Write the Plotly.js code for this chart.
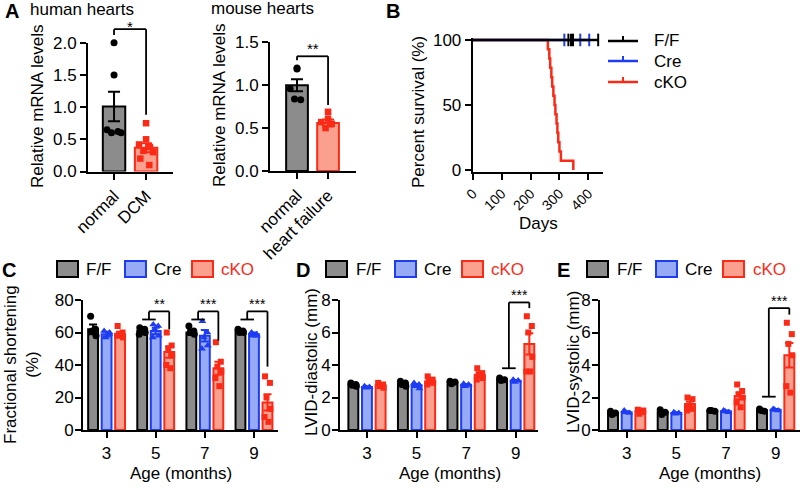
<!DOCTYPE html>
<html>
<head>
<meta charset="utf-8">
<script src="https://cdn.plot.ly/plotly-3.0.1.min.js"></script>
<style>
  body { margin: 0; background: #fff; }
  #fig { width: 800px; height: 488px; }
</style>
</head>
<body>
<div id="fig"></div>
<script>
// ---- values ----

// A: relative mRNA levels
var humanGroups = ['normal', 'DCM'];
var humanMean = [1.01, 0.37];
var humanSem = [0.23, 0.07];
var humanNormalPts = [2.0, 1.5, 0.65, 0.62, 0.6, 0.6];
var humanDcmPts = [0.75, 0.5, 0.42, 0.38, 0.32, 0.3, 0.2, 0.1];

var mouseGroups = ['normal', 'heart failure'];
var mouseMean = [1.0, 0.56];
var mouseSem = [0.07, 0.04];
var mouseNormalPts = [1.19, 1.2, 0.96, 0.83, 0.84];
var mouseHfPts = [0.69, 0.61, 0.57, 0.55, 0.5];

// B: survival
var ckoDays = [0, 260, 265, 268, 272, 275, 279, 283, 286, 290, 293, 296, 300, 305, 348];
var ckoSurv = [100, 92.9, 85.7, 78.6, 71.4, 64.3, 57.1, 50, 42.9, 35.7, 28.6, 21.4, 14.3, 7.1, 0];
var creDays = [0, 403];
var creSurv = [100, 100];
var ffDays = [0, 434];
var ffSurv = [100, 100];
var creCensorDays = [317, 372, 403];
var creCensorSurv = [100, 100, 100];
var ffCensorDays = [331, 340, 347, 434];
var ffCensorSurv = [100, 100, 100, 100];
var survNames = ['F/F', 'Cre', 'cKO'];

// C-E: echo by age
var ages = ['3', '5', '7', '9'];
var ageIdx = [0, 1, 2, 3];

var fsMeanFF = [62, 61, 60, 61];
var fsMeanCre = [59, 61, 58, 59];
var fsMeanKO = [59, 48, 38, 17];
var fsSemFF = [3, 1, 1.5, 1];
var fsSemCre = [1.5, 2, 3.5, 1];
var fsSemKO = [1.5, 3.5, 4, 5];
var fsPtsFF = [[70, 62, 61, 58], [63, 62, 61, 60, 59], [64, 61, 60, 59], [62, 61, 60, 60]];
var fsPtsCre = [[61, 59, 57, 60], [65, 64, 62, 58, 57], [67, 60, 57, 52, 50], [60, 59, 58, 58]];
var fsPtsKO = [[64, 60, 59, 57, 58], [60, 52, 50, 46, 40, 38], [54, 42, 39, 36, 32, 27], [33, 29, 20, 13, 8, 5]];

var ddMeanFF = [2.8, 2.85, 2.92, 3.1];
var ddMeanCre = [2.65, 2.75, 2.78, 3.03];
var ddMeanKO = [2.75, 3.0, 3.4, 5.3];
var ddSemFF = [0.05, 0.1, 0.05, 0.05];
var ddSemCre = [0.05, 0.08, 0.05, 0.05];
var ddSemKO = [0.1, 0.1, 0.15, 0.65];
var ddPtsFF = [[2.9, 2.8, 2.75, 2.7], [3.0, 2.9, 2.8, 2.7], [3.0, 2.95, 2.85], [3.2, 3.1, 3.05]];
var ddPtsCre = [[2.7, 2.65, 2.6], [2.9, 2.8, 2.7, 2.55], [2.85, 2.8, 2.7], [3.1, 3.05, 2.95]];
var ddPtsKO = [[2.9, 2.8, 2.7, 2.6], [3.3, 3.1, 3.0, 2.9, 2.8], [3.8, 3.5, 3.4, 3.2, 3.1], [7.0, 6.4, 6.0, 4.5, 3.6, 3.6]];

var dsMeanFF = [1.05, 1.1, 1.18, 1.2];
var dsMeanCre = [1.1, 1.05, 1.15, 1.25];
var dsMeanKO = [1.15, 1.6, 2.1, 4.6];
var dsSemFF = [0.05, 0.08, 0.04, 0.05];
var dsSemCre = [0.05, 0.04, 0.05, 0.05];
var dsSemKO = [0.05, 0.15, 0.2, 0.75];
var dsPtsFF = [[1.15, 1.05, 0.95], [1.25, 1.1, 0.95], [1.2, 1.15, 1.2], [1.3, 1.15, 1.2]];
var dsPtsCre = [[1.2, 1.05, 1.1], [1.1, 1.05, 1.0], [1.2, 1.1, 1.15], [1.3, 1.2, 1.25]];
var dsPtsKO = [[1.25, 1.1, 1.0, 1.2], [2.0, 1.9, 1.5, 1.3, 1.2], [2.8, 2.4, 2.2, 2.0, 1.7, 1.4], [6.6, 5.9, 5.3, 4.6, 2.7, 2.3]];

// ---- styling ----
var FONT = 'Liberation Sans, Arial, sans-serif';
var FF_FILL = '#8c8c8c', FF_EDGE = '#000000';
var CRE_FILL = '#97aaf6', CRE_EDGE = '#1d3cf3';
var KO_FILL = '#fb9f8f', KO_EDGE = '#fb2a17';
var BAR_W = 0.2, BAR_OFF = 0.275;
var jitA = [0, 0, -0.22, 0.12, -0.08, 0.22, -0.18, 0.1];
var jitB = [-0.05, 0.05, -0.02, 0.06, -0.06, 0.02, 0.0];

function px(x) { return x / 800; }
function py(y) { return 1 - y / 488; }
function dom(v, r) { return (v - r[0]) / (r[1] - r[0]); }

function axStyle(extra) {
  return Object.assign({
    showline: true, linecolor: '#000', linewidth: 2,
    ticks: 'outside', ticklen: 6, tickwidth: 2, tickcolor: '#000',
    showgrid: false, zeroline: false, fixedrange: true,
    tickfont: { family: FONT, size: 17, color: '#000' }
  }, extra);
}

var traces = [];
var shapes = [];
var annotations = [];

function text(t, x, y, opts) {
  annotations.push(Object.assign({
    text: t, xref: 'paper', yref: 'paper', x: px(x), y: py(y),
    showarrow: false, xanchor: 'center', yanchor: 'middle',
    font: { family: FONT, size: 17, color: '#000' }
  }, opts || {}));
}

function pline(x0, y0, x1, y1, color, w) {
  shapes.push({
    type: 'line', xref: 'paper', yref: 'paper',
    x0: px(x0), y0: py(y0), x1: px(x1), y1: py(y1),
    line: { color: color, width: w }
  });
}

// bracket drawn in axis-domain coords so it is not clipped by the plot area
function seg(n, xr, yr, x0, y0, x1, y1) {
  shapes.push({
    type: 'line', xref: 'x' + n + ' domain', yref: 'y' + n + ' domain',
    x0: dom(x0, xr), y0: dom(y0, yr), x1: dom(x1, xr), y1: dom(y1, yr),
    line: { color: '#000', width: 1.8 }
  });
}

// ---- A: two small bar charts ----
function mrnaPanel(n, mean, sem, ptsA, ptsB) {
  var xa = 'x' + n, ya = 'y' + n;
  traces.push({
    type: 'bar', x: [0], y: [mean[0]], width: 0.7, xaxis: xa, yaxis: ya,
    marker: { color: FF_FILL, line: { color: FF_EDGE, width: 2 } },
    error_y: { type: 'data', array: [sem[0]], color: FF_EDGE, thickness: 2, width: 6 },
    showlegend: false, hoverinfo: 'skip'
  });
  traces.push({
    type: 'bar', x: [1], y: [mean[1]], width: 0.7, xaxis: xa, yaxis: ya,
    marker: { color: KO_FILL, line: { color: KO_EDGE, width: 2 } },
    error_y: { type: 'data', array: [sem[1]], color: KO_EDGE, thickness: 2, width: 6 },
    showlegend: false, hoverinfo: 'skip'
  });
  traces.push({
    type: 'scatter', mode: 'markers', xaxis: xa, yaxis: ya, cliponaxis: false,
    x: ptsA.map(function (v, k) { return 0 + jitA[k]; }), y: ptsA,
    marker: { symbol: 'circle', size: 7, color: '#000' }, showlegend: false, hoverinfo: 'skip'
  });
  traces.push({
    type: 'scatter', mode: 'markers', xaxis: xa, yaxis: ya, cliponaxis: false,
    x: ptsB.map(function (v, k) { return 1 + jitA[k]; }), y: ptsB,
    marker: { symbol: 'square', size: 6.5, color: KO_EDGE }, showlegend: false, hoverinfo: 'skip'
  });
}

var xrH = [-0.8125, 1.84], yrH = [0, 2];
var xrM = [-0.87, 1.9], yrM = [0, 1.5];
mrnaPanel('', humanMean, humanSem, humanNormalPts, humanDcmPts);
mrnaPanel('2', mouseMean, mouseSem, mouseNormalPts, mouseHfPts);

seg('', xrH, yrH, 0, 2.12, 0, 2.21);
seg('', xrH, yrH, 0, 2.21, 1, 2.21);
seg('', xrH, yrH, 1, 2.21, 1, 0.88);
text('*', 130, 26, { font: { family: FONT, size: 15, color: '#000' } });

seg('2', xrM, yrM, 0, 1.29, 0, 1.337);
seg('2', xrM, yrM, 0, 1.337, 1, 1.337);
seg('2', xrM, yrM, 1, 1.337, 1, 0.77);
text('**', 313, 48, { font: { family: FONT, size: 15, color: '#000' } });

// ---- B: survival ----
var survColors = ['#000', CRE_EDGE, KO_EDGE];
function survLine(days, surv, color) {
  traces.push({
    type: 'scatter', mode: 'lines', x: days, y: surv, xaxis: 'x3', yaxis: 'y3',
    line: { shape: 'hv', color: color, width: 2.5 }, showlegend: false, hoverinfo: 'skip'
  });
}
function censorMarks(days, surv, color) {
  traces.push({
    type: 'scatter', mode: 'markers', x: days, y: surv, xaxis: 'x3', yaxis: 'y3',
    cliponaxis: false, showlegend: false, hoverinfo: 'skip',
    marker: { symbol: 'line-ns-open', size: 9, color: color, line: { color: color, width: 2 } }
  });
}
survLine(ckoDays, ckoSurv, KO_EDGE);
survLine(creDays, creSurv, CRE_EDGE);
censorMarks(creCensorDays, creCensorSurv, CRE_EDGE);
survLine(ffDays, ffSurv, '#000');
censorMarks(ffCensorDays, ffCensorSurv, '#000');

// legend for B
[41, 61, 82].forEach(function (y, k) {
  pline(608, y, 638, y, survColors[k], 2.5);
  pline(623, y, 623, y - 5, survColors[k], 2);
  text(survNames[k], 652, y, { xanchor: 'left' });
});

// ---- C-E: grouped bars ----
function echoPanel(n, mFF, mCre, mKO, sFF, sCre, sKO, pFF, pCre, pKO) {
  var xa = 'x' + n, ya = 'y' + n;
  var genos = [
    { off: -BAR_OFF, m: mFF, s: sFF, p: pFF, fill: FF_FILL, edge: FF_EDGE, sym: 'circle', size: 7 },
    { off: 0, m: mCre, s: sCre, p: pCre, fill: CRE_FILL, edge: CRE_EDGE, sym: 'triangle-up', size: 7 },
    { off: BAR_OFF, m: mKO, s: sKO, p: pKO, fill: KO_FILL, edge: KO_EDGE, sym: 'square', size: 6 }
  ];
  genos.forEach(function (g) {
    traces.push({
      type: 'bar', x: ageIdx.map(function (i) { return i + g.off; }), y: g.m, width: BAR_W,
      xaxis: xa, yaxis: ya, showlegend: false, hoverinfo: 'skip',
      marker: { color: g.fill, line: { color: g.edge, width: 2 } },
      error_y: { type: 'data', array: g.s, color: g.edge, thickness: 2, width: 4 }
    });
  });
  genos.forEach(function (g) {
    var xs = [], ys = [];
    g.p.forEach(function (list, i) {
      list.forEach(function (v, j) { xs.push(i + g.off + jitB[j % jitB.length]); ys.push(v); });
    });
    traces.push({
      type: 'scatter', mode: 'markers', x: xs, y: ys, xaxis: xa, yaxis: ya, cliponaxis: false,
      marker: { symbol: g.sym, size: g.size, color: g.edge }, showlegend: false, hoverinfo: 'skip'
    });
  });
}

var xrC = [-0.48, 3.489], yrC = [0, 80];
var xrD = [-0.544, 3.45], yrD = [0, 8];
var xrE = [-0.537, 3.49], yrE = [0, 8];
echoPanel('4', fsMeanFF, fsMeanCre, fsMeanKO, fsSemFF, fsSemCre, fsSemKO, fsPtsFF, fsPtsCre, fsPtsKO);
echoPanel('5', ddMeanFF, ddMeanCre, ddMeanKO, ddSemFF, ddSemCre, ddSemKO, ddPtsFF, ddPtsCre, ddPtsKO);
echoPanel('6', dsMeanFF, dsMeanCre, dsMeanKO, dsSemFF, dsSemCre, dsSemKO, dsPtsFF, dsPtsCre, dsPtsKO);

function sigBracket(n, xr, yr, i, low, top, legEnd, starY, stars) {
  var mid = i - BAR_OFF / 2;
  seg(n, xr, yr, i - BAR_OFF, low, i, low);
  seg(n, xr, yr, mid, low, mid, top);
  seg(n, xr, yr, mid, top, i + BAR_OFF, top);
  seg(n, xr, yr, i + BAR_OFF, top, i + BAR_OFF, legEnd);
  annotations.push({
    text: stars, xref: 'x' + n + ' domain', yref: 'y' + n + ' domain',
    x: dom((mid + i + BAR_OFF) / 2, xr), y: dom(starY, yr),
    showarrow: false, xanchor: 'center', yanchor: 'middle',
    font: { family: FONT, size: 14, color: '#000' }
  });
}
sigBracket('4', xrC, yrC, 1, 68, 73, 62, 77.5, '**');
sigBracket('4', xrC, yrC, 2, 68, 73, 55, 77.5, '***');
sigBracket('4', xrC, yrC, 3, 68, 73, 39, 77.5, '***');
sigBracket('5', xrD, yrD, 3, 3.8, 7.85, 7.5, 8.3, '***');
sigBracket('6', xrE, yrE, 3, 2.05, 7.5, 7.1, 7.95, '***');

// legend boxes for C-E
function boxLegend(lefts, textXs) {
  var items = [['F/F', FF_FILL, FF_EDGE, '#000'], ['Cre', CRE_FILL, CRE_EDGE, '#000'], ['cKO', KO_FILL, KO_EDGE, KO_EDGE]];
  items.forEach(function (it, k) {
    shapes.push({
      type: 'rect', xref: 'paper', yref: 'paper',
      x0: px(lefts[k]), x1: px(lefts[k] + 21), y0: py(277), y1: py(261),
      fillcolor: it[1], line: { color: it[2], width: 2 }
    });
    text(it[0], textXs[k], 269, { xanchor: 'left', font: { family: FONT, size: 17, color: it[3] } });
  });
}
boxLegend([57, 125, 192], [84, 152, 219]);
boxLegend([326, 395, 462], [354, 422, 489]);
boxLegend([587, 656, 723], [615, 683, 751]);

// ---- titles, labels ----
var bold = { family: FONT, size: 20, color: '#000' };
text('<b>A</b>', 3, 11, { xanchor: 'left', font: bold });
text('<b>B</b>', 384, 11, { xanchor: 'left', font: bold });
text('<b>C</b>', 0, 270, { xanchor: 'left', font: bold });
text('<b>D</b>', 294, 270, { xanchor: 'left', font: bold });
text('<b>E</b>', 555, 270, { xanchor: 'left', font: bold });

text('human hearts', 28, 10, { xanchor: 'left' });
text('mouse hearts', 209, 9, { xanchor: 'left' });

text('Relative mRNA levels', 38, 107, { textangle: -90 });
text('Relative mRNA levels', 220, 106, { textangle: -90 });
text('Percent survival (%)', 418, 112, { textangle: -90 });
text('Days', 538, 223);
text('Fractional shortening<br>(%)', 21, 365, { textangle: -90 });
text('LVID-diastolic (mm)', 311, 362, { textangle: -90 });
text('LVID-systolic (mm)', 573, 362, { textangle: -90 });
text('Age (months)', 181, 473);
text('Age (months)', 450, 473);
text('Age (months)', 710, 473);

// ---- axes ----
var bottomY = [py(430), py(300)];
var ageAx = { tickmode: 'array', tickvals: ageIdx, ticktext: ages, ticklabelstandoff: 1 };
var layout = {
  width: 800, height: 488,
  margin: { l: 0, r: 0, t: 0, b: 0 },
  paper_bgcolor: '#fff', plot_bgcolor: 'rgba(0,0,0,0)',
  font: { family: FONT, color: '#000' },
  barmode: 'overlay',
  showlegend: false,
  xaxis: axStyle({ domain: [px(88), px(173)], range: xrH, anchor: 'y', tickmode: 'array',
    tickvals: [0, 1], ticktext: humanGroups, tickangle: -45 }),
  yaxis: axStyle({ domain: [py(171.5), py(42.7)], range: yrH, anchor: 'x', tickmode: 'array',
    tickvals: [0, 0.5, 1, 1.5, 2], tickformat: '.1f' }),
  xaxis2: axStyle({ domain: [px(270), px(356)], range: xrM, anchor: 'y2', tickmode: 'array',
    tickvals: [0, 1], ticktext: mouseGroups, tickangle: -45 }),
  yaxis2: axStyle({ domain: [py(171), py(42.3)], range: yrM, anchor: 'x2', tickmode: 'array',
    tickvals: [0, 0.5, 1, 1.5], tickformat: '.1f' }),
  xaxis3: axStyle({ domain: [px(472.7), px(602.8)], range: [0, 450], anchor: 'y3', tickmode: 'array',
    tickvals: [0, 100, 200, 300, 400], tickangle: -45, tickfont: { family: FONT, size: 14, color: '#000' } }),
  yaxis3: axStyle({ domain: [py(172), py(38)], range: [-1.5, 101.5], anchor: 'x3', tickmode: 'array',
    tickvals: [0, 50, 100] }),
  xaxis4: axStyle(Object.assign({ domain: [px(83), px(278)], range: xrC, anchor: 'y4' }, ageAx)),
  yaxis4: axStyle({ domain: bottomY, range: yrC, anchor: 'x4', tickmode: 'array',
    tickvals: [0, 20, 40, 60, 80], ticklabelstandoff: -2 }),
  xaxis5: axStyle(Object.assign({ domain: [px(340), px(538)], range: xrD, anchor: 'y5' }, ageAx)),
  yaxis5: axStyle({ domain: bottomY, range: yrD, anchor: 'x5', tickmode: 'array',
    tickvals: [0, 2, 4, 6, 8], ticklabelstandoff: -2 }),
  xaxis6: axStyle(Object.assign({ domain: [px(600), px(800)], range: xrE, anchor: 'y6' }, ageAx)),
  yaxis6: axStyle({ domain: bottomY, range: yrE, anchor: 'x6', tickmode: 'array',
    tickvals: [0, 2, 4, 6, 8], ticklabelstandoff: -2 }),
  shapes: shapes,
  annotations: annotations
};

Plotly.newPlot('fig', traces, layout, { displayModeBar: false, staticPlot: true });
</script>
</body>
</html>
